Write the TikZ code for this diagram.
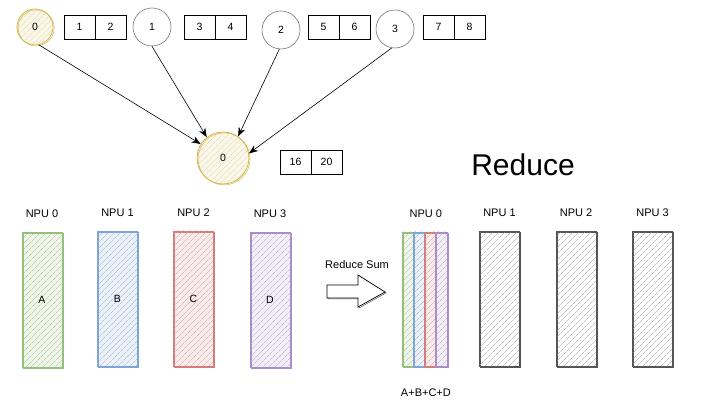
\documentclass[tikz,border=0pt]{standalone}
\usepackage{fontspec}
\setmainfont{Liberation Sans}
\usetikzlibrary{positioning,arrows.meta,patterns.meta}
% colours of the four ranks
\definecolor{edgeA}{HTML}{93C07A}\definecolor{fillA}{HTML}{EEF6E8}\definecolor{hatchA}{HTML}{A9B8A0}
\definecolor{edgeB}{HTML}{7FA4D8}\definecolor{fillB}{HTML}{EBF1FA}\definecolor{hatchB}{HTML}{A3AEBE}
\definecolor{edgeC}{HTML}{D57C7C}\definecolor{fillC}{HTML}{FAEBEB}\definecolor{hatchC}{HTML}{C0A6A6}
\definecolor{edgeD}{HTML}{A98DCB}\definecolor{fillD}{HTML}{F3EEF8}\definecolor{hatchD}{HTML}{B1A8BC}
\definecolor{edgeG}{HTML}{555555}\definecolor{fillG}{HTML}{FFFFFF}\definecolor{hatchG}{HTML}{A0A0A0}
\definecolor{edgeY}{HTML}{D5B54E}\definecolor{fillY}{HTML}{FBF7E6}\definecolor{hatchY}{HTML}{D9D2BC}
\begin{document}
\begin{tikzpicture}[x=1pt,y=-1pt,
  hatch/.style={preaction={fill=fill#1}, pattern={Lines[angle=45,distance=4pt,line width=0.35pt]}, pattern color=hatch#1},
  sketch/.style={preaction={draw=edge#1, line width=0.5pt, transform canvas={shift={(1.1pt,-0.9pt)}}}},
  rank/.style={circle, draw=edgeG!80, fill=white, line width=0.6pt, minimum size=38pt, inner sep=0pt, font=\fontsize{10.5}{12}\selectfont},
  leader/.style={draw=edgeY, line width=0.8pt, hatch=Y, sketch=Y},
  cell/.style={draw, rectangle, line width=0.6pt, outer sep=0pt, minimum width=31pt, minimum height=24pt, inner sep=0pt, font=\fontsize{10.5}{12}\selectfont},
  npu/.style={draw=edge#1, rectangle, line width=0.8pt, hatch=#1, sketch=#1, minimum width=40pt, minimum height=135pt, inner sep=0pt, font=\fontsize{10.5}{12}\selectfont},
  strip/.style={npu=#1, minimum width=12pt, minimum height=134pt},
  tag/.style={inner sep=0pt, font=\fontsize{11}{13}\selectfont},
  arr/.style={-{Stealth[length=9pt,width=7pt]}, line width=0.6pt}]
\useasboundingbox (0,0) rectangle (720,411);
% gather: four ranks send to rank 0
\node[rank, leader, minimum size=36pt] (c0) at (35,27) {0};
\node[cell] (a1) at (79.5,27) {1};
\node[cell, right=0pt of a1] (a2) {2};
\node[rank] (c1) at (152,27) {1};
\node[cell] (a3) at (199.5,27) {3};
\node[cell, right=0pt of a3] (a4) {4};
\node[rank] (c2) at (281,30) {2};
\node[cell] (a5) at (323.5,27) {5};
\node[cell, right=0pt of a5] (a6) {6};
\node[rank] (c3) at (395,29) {3};
\node[cell] (a7) at (438.5,27) {7};
\node[cell, right=0pt of a7] (a8) {8};
\node[rank, leader, minimum size=52pt] (r) at (223,158) {0};
\node[cell] (s1) at (295.5,162) {16};
\node[cell, right=0pt of s1] (s2) {20};
\draw[arr] (c0.-78) -- (r.148);
\draw[arr] (c1.south) -- (r.128);
\draw[arr] (c2.-95) -- (r.55);
\draw[arr] (c3.-100) -- (r.10);
\node[font=\fontsize{30}{36}\selectfont] (title) at (523,165) {Reduce};
% before
\node[npu=A] (n0) at (42,300) {A};
\node[npu=B] (n1) at (117.5,299) {B};
\node[npu=C] (n2) at (193.5,298.5) {C};
\node[npu=D] (n3) at (270,300) {D};
\node[tag, above=14pt of n0] (l0) {NPU 0};
\node[tag, above=14pt of n1] (l1) {NPU 1};
\node[tag, above=14pt of n2] (l2) {NPU 2};
\node[tag, above=14pt of n3] (l3) {NPU 3};
% reduce sum arrow
\node[tag] (op) at (357,265) {Reduce Sum};
\draw[line width=0.7pt, fill=white, sketch=G] (327,285) -- (358,285) -- (358,275) -- (385,292)
  -- (358,307) -- (358,298) -- (327,298) -- cycle;
% after
\node[strip=A] (t0) at (408.5,299) {};
\node[strip=B] (t1) at (419.5,299) {};
\node[strip=C] (t2) at (430.5,299) {};
\node[strip=D] (t3) at (441.5,299) {};
\node[npu=G] (m1) at (499.5,299) {};
\node[npu=G] (m2) at (576,299) {};
\node[npu=G] (m3) at (652.5,299) {};
\node[tag, above=14pt of t1.north east] (k0) {NPU 0};
\node[tag, above=14pt of m1] (k1) {NPU 1};
\node[tag, above=14pt of m2] (k2) {NPU 2};
\node[tag, above=14pt of m3] (k3) {NPU 3};
\node[tag, below=22pt of t1.south east] (sum) {A+B+C+D};
\end{tikzpicture}
\end{document}
